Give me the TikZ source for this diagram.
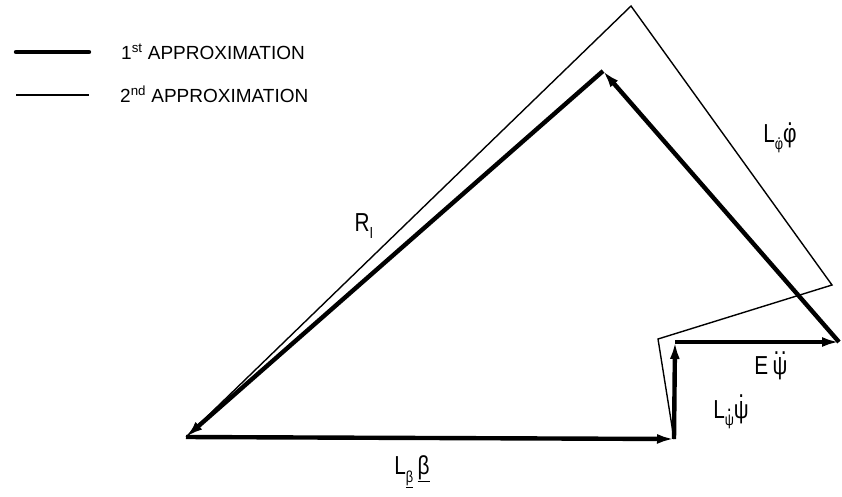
\documentclass[tikz,border=0pt]{standalone}
\usepackage{fontspec}
\setmainfont{Liberation Sans}
\newfontfamily\lblfont[FakeStretch=0.8]{Liberation Sans}
\usetikzlibrary{arrows.meta}
\newcommand{\dotover}[2][0.62em]{\ooalign{#2\cr\hidewidth\raisebox{#1}{.}\hidewidth\cr}}
\newcommand{\ddotover}[2][0.62em]{\ooalign{#2\cr\hidewidth\raisebox{#1}{.\kern0.06em.}\hidewidth\cr}}
\newcommand{\sub}[1]{\raisebox{-0.3em}{\fontsize{16}{18}\selectfont #1}}
\begin{document}
\begin{tikzpicture}[x=1pt,y=-1pt,
  thickline/.style={line width=4.4pt},
  thinline/.style={line width=1.4pt, line join=miter},
  vec/.style={thickline,-{Latex[length=17pt,width=10pt]}},
  lbl/.style={font=\lblfont\fontsize{26}{30}\selectfont, inner sep=0pt},
  leg/.style={font=\fontsize{19}{22}\selectfont, inner sep=0pt, anchor=base west}]
\useasboundingbox (0,0) rectangle (842,496);
% vertices
\coordinate (A) at (186,437);
\coordinate (B) at (674,439);
\coordinate (C) at (675,342);
\coordinate (D) at (839,342);
\coordinate (E) at (603,71);
\coordinate (T1) at (631,6);
\coordinate (T2) at (832,285);
\coordinate (T3) at (658,339);
% second approximation (thin)
\draw[thinline] (A) -- (T1) -- (T2) -- (T3) -- (B);
% first approximation (thick vectors)
\draw[vec] (A) -- (B);
\draw[vec] (B) -- (C);
\draw[vec] (C) -- (D);
\draw[vec] (D) -- (E);
\draw[vec] (E) -- (A);
% labels
\node[lbl] (lR) at (364,226) {R\sub{I}};
\node[lbl] (lphi) at (780,137) {L\sub{\dotover{φ}}\dotover{φ}};
\node[lbl] (lE) at (771,366) {E\,\ddotover[0.78em]{ψ}};
\node[lbl] (lpsi) at (731,413) {L\sub{\ooalign{ψ\cr\hidewidth\raisebox{0.9em}{\fontsize{22}{24}\selectfont .}\hidewidth\cr}}\dotover[0.78em]{ψ}};
\node[lbl] (lbeta) at (412,472) {L\sub{\underline{β}}\,\underline{β}};
% legend
\coordinate (L1a) at (16,52);
\coordinate (L1b) at (89,52);
\coordinate (L2a) at (16,95);
\coordinate (L2b) at (89,95);
\draw[thickline,line cap=round] (L1a) -- (L1b);
\draw[thinline] (L2a) -- (L2b);
\node[leg] (t1) at (121,59) {1\textsuperscript{st} APPROXIMATION};
\node[leg] (t2) at (120,102) {2\textsuperscript{nd} APPROXIMATION};
\end{tikzpicture}
\end{document}
